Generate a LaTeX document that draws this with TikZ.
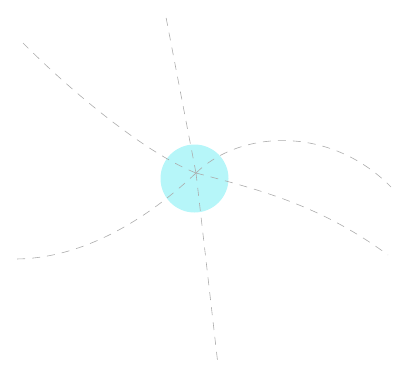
\documentclass[tikz,border=0pt]{standalone}
\usepackage{tikz}
\usetikzlibrary{positioning}

\definecolor{hubcyan}{RGB}{182,246,249}

\begin{document}
\begin{tikzpicture}[
    x=1pt, y=-1pt,
    hub/.style={circle, fill=hubcyan, draw=none, minimum size=68pt, inner sep=0pt},
    link/.style={draw=gray!65, line width=0.6pt, dash pattern=on 8pt off 7pt}
]
\useasboundingbox (0,0) rectangle (393,369);

% NODES
\node[hub] (hub) at (194.5,178.5) {};
\coordinate (core) at (196,173);
\coordinate (north) at (165,12);
\coordinate (south) at (218,365);
\coordinate (northwest) at (23,43);
\coordinate (southwest) at (15,259);
\coordinate (northeast) at (391,187);
\coordinate (southeast) at (388,255);

% LINKS
\draw[link] (core) -- (north);
\draw[link] (core) -- (south);
\draw[link] (core) .. controls (150,155) and (80,100) .. (northwest);
\draw[link] (core) .. controls (142,224) and (78,259) .. (southwest);
\draw[link] (core) .. controls (240,130) and (330,125) .. (northeast);
\draw[link] (core) .. controls (260,190) and (320,205) .. (southeast);

\end{tikzpicture}
\end{document}
